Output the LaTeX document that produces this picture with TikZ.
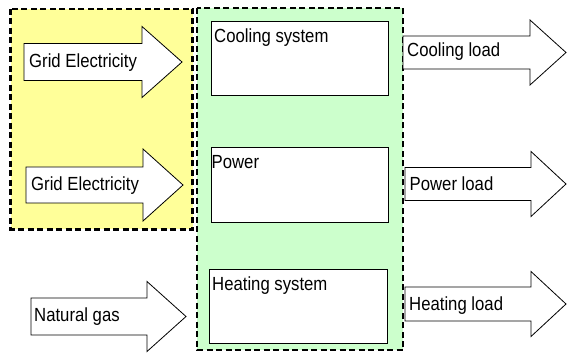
\documentclass[tikz,border=0pt]{standalone}
\usepackage{fontspec}
\setmainfont{Liberation Sans}[FakeStretch=0.88]
\definecolor{zoneyellow}{HTML}{FFFF99}
\definecolor{zonegreen}{HTML}{CCFFCC}
\tikzset{
  zone/.style={line width=2.4pt, dash pattern=on 6pt off 3.5pt, draw=black},
  blockarrow/.style={draw=black, fill=white, line width=0.8pt, line join=miter},
  sysbox/.style={draw=black, fill=white, line width=0.8pt, anchor=north west, inner sep=0pt},
  lbl/.style={anchor=base west, inner sep=0pt, font=\fontsize{19}{22}\selectfont}
}
% #1 left x, #2 head base x, #3 tip x, #4 centre y, #5 body half height, #6 head half height
\newcommand\myblockarrow[6]{%
  \draw[blockarrow] (#1,{#4-#5}) -- (#2,{#4-#5}) -- (#2,{#4-#6}) -- (#3,#4)
    -- (#2,{#4+#6}) -- (#2,{#4+#5}) -- (#1,{#4+#5}) -- cycle;}
\begin{document}
\begin{tikzpicture}[x=1pt,y=-1pt]
\useasboundingbox (0,0) rectangle (567,363);
% zones
\draw[zone, fill=zoneyellow] (10.5,9) rectangle (192.5,229.5);
\draw[zone, fill=zonegreen] (197,8) rectangle (403,350);
% system boxes
\node[sysbox, minimum width=177pt, minimum height=74pt] (cool) at (211,21) {};
\node[sysbox, minimum width=177pt, minimum height=75pt] (power) at (211,147) {};
\node[sysbox, minimum width=178pt, minimum height=74pt] (heat) at (209,269) {};
\node[lbl] (tcool) at ([shift={(3,22)}]cool.north west) {Cooling system};
\node[lbl] (tpower) at ([shift={(0.5,21.6)}]power.north west) {Power};
\node[lbl] (theat) at ([shift={(3,21.3)}]heat.north west) {Heating system};
% input arrows
\myblockarrow{24}{142}{182}{62}{18.5}{35.5}
\node[lbl] (grid1) at (29,68) {Grid Electricity};
\myblockarrow{26}{143}{183}{185}{18}{36}
\node[lbl] (grid2) at (31,190.3) {Grid Electricity};
\myblockarrow{31}{147}{186}{316.5}{18.5}{35}
\node[lbl] (gas) at (34,321) {Natural gas};
% output arrows
\myblockarrow{403}{530}{566}{52.5}{16.5}{32.5}
\node[lbl] (lcool) at (407,57) {Cooling load};
\myblockarrow{405}{531}{566}{184}{16.5}{32.5}
\node[lbl] (lpower) at (409.5,190.3) {Power load};
\myblockarrow{405}{531}{566}{304}{17}{32.5}
\node[lbl] (lheat) at (409,310.3) {Heating load};
\end{tikzpicture}
\end{document}
